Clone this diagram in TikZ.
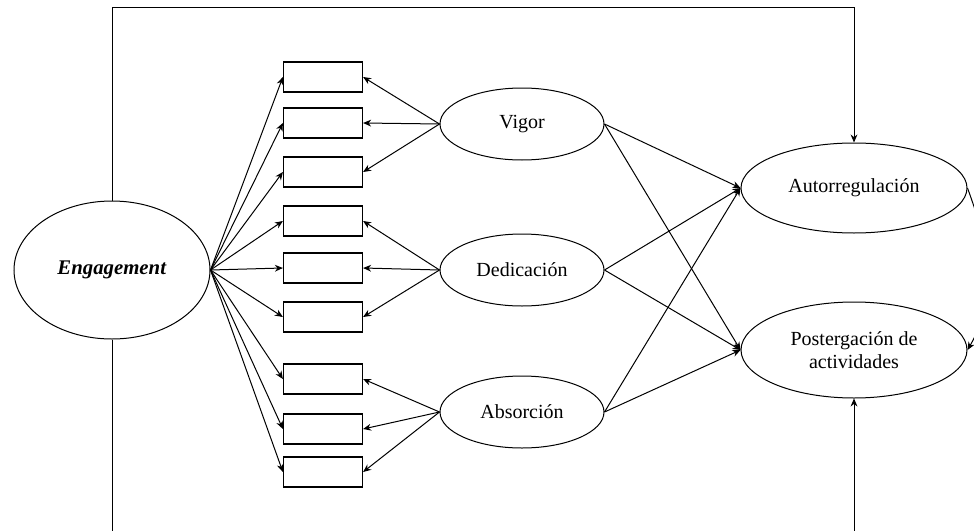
\documentclass[tikz,border=0pt]{standalone}
\usepackage{fontspec}
\setmainfont{Liberation Serif}
\usetikzlibrary{shapes.geometric,arrows.meta}

\begin{document}
\begin{tikzpicture}[x=0.5pt, y=-0.5pt, node distance=73pt, font=\fontsize{10}{11.5}\selectfont]
\tikzstyle{lat} = [ellipse, draw, line width=0.5pt, minimum width=82pt, minimum height=36pt, inner sep=0pt, align=center]
\tikzstyle{obs} = [rectangle, draw, line width=0.6pt, minimum width=39.5pt, minimum height=15pt, inner sep=0pt]
\tikzstyle{arrow} = [line width=0.5pt, -{Stealth[length=4pt, width=3.4pt]}]

\useasboundingbox (0,0) rectangle (974,530);

\node (eng) [lat, minimum width=98pt, minimum height=69pt] at (112,270) {\fontsize{10.4}{12}\selectfont\textbf{\textit{Engagement}}};
\node (ded) [lat] at (522,270) {Dedicación};
\node (vig) [lat, above of=ded] {Vigor};
\node (abs) [lat, below of=ded, yshift=2pt] {Absorción};
\node (aut) [lat, minimum width=113pt, minimum height=45pt, node distance=166pt, right of=vig, yshift=-32pt] {Autorregulación};
\node (post) [lat, minimum width=113pt, minimum height=48pt, node distance=81pt, below of=aut] {Postergación de\\actividades};

% indicadores
\node (v1) [obs] at (323,77) {};
\node (v2) [obs] at (323,123) {};
\node (v3) [obs] at (323,172) {};
\node (d1) [obs] at (323,221) {};
\node (d2) [obs] at (323,268) {};
\node (d3) [obs] at (323,317) {};
\node (a1) [obs] at (323,379) {};
\node (a2) [obs] at (323,429) {};
\node (a3) [obs] at (323,472) {};

\draw [arrow] (eng.east) -- (v1.west);
\draw [arrow] (eng.east) -- (v2.west);
\draw [arrow] (eng.east) -- (v3.west);
\draw [arrow] (eng.east) -- (d1.west);
\draw [arrow] (eng.east) -- (d2.west);
\draw [arrow] (eng.east) -- (d3.west);
\draw [arrow] (eng.east) -- (a1.west);
\draw [arrow] (eng.east) -- (a2.west);
\draw [arrow] (eng.east) -- (a3.west);

\draw [arrow] (vig.west) -- (v1.east);
\draw [arrow] (vig.west) -- (v2.east);
\draw [arrow] (vig.west) -- (v3.east);
\draw [arrow] (ded.west) -- (d1.east);
\draw [arrow] (ded.west) -- (d2.east);
\draw [arrow] (ded.west) -- (d3.east);
\draw [arrow] (abs.west) -- (a1.east);
\draw [arrow] (abs.west) -- (a2.east);
\draw [arrow] (abs.west) -- (a3.east);

\draw [arrow] (vig.east) -- (aut.west);
\draw [arrow] (vig.east) -- (post.west);
\draw [arrow] (ded.east) -- (aut.west);
\draw [arrow] (ded.east) -- (post.west);
\draw [arrow] (abs.east) -- (aut.west);
\draw [arrow] (abs.east) -- (post.west);

% marco
\draw [arrow] (eng.north) |- (aut.north |- 0,7) -- (aut.north);
\draw [arrow] (eng.south) -- ++(0,300) -| (post.south);
\draw [arrow] (aut.east) to [out=-70, in=60] (post.east);

\end{tikzpicture}
\end{document}
